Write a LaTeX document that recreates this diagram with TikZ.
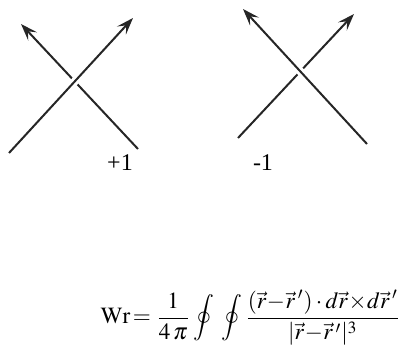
\documentclass[tikz,border=0pt]{standalone}
\usepackage{amsmath}
\usepackage{mathptmx}
\usepackage{fontspec}
\setmainfont{Liberation Serif}
\usetikzlibrary{arrows.meta}
\tikzset{
  strand/.style={line width=2pt, draw=black!85, -{Stealth[length=17pt,width=12pt,inset=7pt]}},
  over/.style={strand, preaction={draw=white, line width=8pt, -}},
  lbl/.style={scale=2.4, inner sep=0pt}
}
\begin{document}
\begin{tikzpicture}[x=1pt,y=-1pt]
\useasboundingbox (0,0) rectangle (404,355);
% left crossing (+1)
\coordinate (a1) at (9,153);
\coordinate (a2) at (133,18);
\coordinate (b1) at (138,149);
\coordinate (b2) at (21,24);
\draw[strand] (b1) -- (b2);
\draw[over] (a1) -- (a2);
\node[lbl] (p1) at (120,163) {+1};
% right crossing (-1)
\coordinate (c1) at (367,144);
\coordinate (c2) at (243,9);
\coordinate (d1) at (238,138);
\coordinate (d2) at (354,14);
\draw[strand] (d1) -- (d2);
\draw[over] (c1) -- (c2);
\node[lbl] (m1) at (263,163) {-1};
% formula
\node[inner sep=0pt, anchor=east] (wr) at (401,318) {\resizebox{300pt}{!}{$\displaystyle\mathrm{Wr}\!=\frac{1}{4\,\pi}\oint\;\oint\frac{(\vec{r}\!-\!\vec{r}\,')\cdot d\vec{r}\!\times\! d\vec{r}\,'}{|\vec{r}\!-\!\vec{r}\,'|^{3}}$}};
\end{tikzpicture}
\end{document}
